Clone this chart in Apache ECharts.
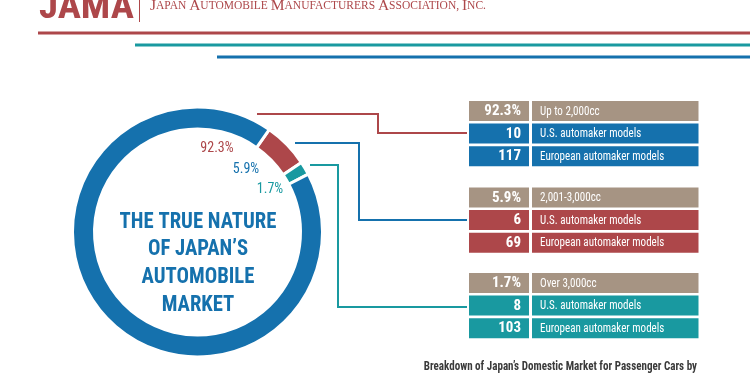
<!DOCTYPE html>
<html>
<head>
<meta charset="utf-8">
<script src="https://cdn.jsdelivr.net/npm/echarts@6/dist/echarts.min.js"></script>
<style>
    html, body { margin: 0; padding: 0; background: #fff; }
    #chart { width: 750px; height: 375px; }
</style>
</head>
<body>
<div id="chart"></div>
<script>
    // data
    const segments = ["Up to 2,000cc", "2,001-3,000cc", "Over 3,000cc"];
    const shares = [92.3, 5.9, 1.7];
    const usModels = [10, 6, 8];
    const euModels = [117, 69, 103];
    const rowLabels = ["U.S. automaker models", "European automaker models"];
    const titleLines = ["THE TRUE NATURE", "OF JAPAN\u2019S", "AUTOMOBILE", "MARKET"];
    const headerText = "Japan Automobile Manufacturers Association, Inc.";
    const footerText = "Breakdown of Japan\u2019s Domestic Market for Passenger Cars by";

    const BLUE = "#1571ad";
    const RED = "#ad474a";
    const TEAL = "#1999a0";
    const TAN = "#a69483";
    const groupColors = [BLUE, RED, TEAL];
    const ringColors = [BLUE, RED, TEAL];
    const ringLabelColors = [RED, BLUE, TEAL];
    const NARROW = '"Liberation Sans Narrow", "Roboto Condensed", "DejaVu Sans Condensed", "Noto Sans", sans-serif';
    const SERIF = '"Liberation Serif", "DejaVu Serif", serif';

    const chart = echarts.init(document.getElementById("chart"));

    // pie order: clockwise from the red slice
    const pieOrder = [1, 2, 0];
    const pieData = pieOrder.map(i => ({
        name: segments[i],
        value: shares[i],
        itemStyle: { color: ringColors[i] }
    }));

    let graphics = [];

    // narrow text helper (squeezed horizontally like the original font)
    const narrowText = (x, y, text, font, fill, align, squeeze) => ({
        type: "text", x: x, y: y, scaleX: squeeze, scaleY: 1,
        style: { text: text, fill: fill, font: font, align: align, verticalAlign: "middle" }
    });

    // header
    graphics.push({
        type: "text", x: 39, y: -10, scaleX: 1.05,
        style: { text: "JAMA", fill: RED, font: 'bold 37px ' + NARROW }
    });
    graphics.push({ type: "line", shape: { x1: 139.5, y1: 0, x2: 139.5, y2: 22 }, style: { stroke: RED, lineWidth: 1 } });
    const rich = { b: { fontSize: 15.5, fill: RED, fontFamily: SERIF },
                   s: { fontSize: 11.5, fill: RED, fontFamily: SERIF } };
    const headerRich = headerText.split(" ").map(w => "{b|" + w[0] + "}{s|" + w.slice(1).toUpperCase() + "}").join("{s| }");
    graphics.push({
        type: "text", left: 150, top: -2,
        style: { text: headerRich, rich: rich }
    });
    graphics.push({ type: "line", shape: { x1: 38, y1: 33, x2: 750, y2: 33 }, style: { stroke: RED, lineWidth: 3 } });
    graphics.push({ type: "line", shape: { x1: 135, y1: 45, x2: 750, y2: 45 }, style: { stroke: TEAL, lineWidth: 3 } });
    graphics.push({ type: "line", shape: { x1: 217, y1: 57, x2: 750, y2: 57 }, style: { stroke: BLUE, lineWidth: 3 } });

    // ring labels
    const ringLabelPos = [[217, 148], [246, 169], [270, 189]];
    shares.forEach((s, i) => {
        graphics.push(narrowText(ringLabelPos[i][0], ringLabelPos[i][1], s + "%", "14px " + NARROW, ringLabelColors[i], "center", 1));
    });

    // title in the middle of the ring
    titleLines.forEach((t, i) => {
        graphics.push(narrowText(198, 222 + i * 27.8, t, "bold 22px " + NARROW, BLUE, "center", 0.94));
    });

    // connector lines
    const connectors = [
        { color: RED, points: [[257, 114], [378, 114], [378, 133], [467, 133]] },
        { color: BLUE, points: [[295, 143], [359, 143], [359, 220], [467, 220]] },
        { color: TEAL, points: [[310, 165], [338, 165], [338, 307], [467, 307]] }
    ];
    connectors.forEach(c => {
        graphics.push({ type: "polyline", shape: { points: c.points }, style: { stroke: c.color, lineWidth: 2, fill: null } });
    });

    // tables
    const groupTop = [101, 187.5, 273];
    segments.forEach((seg, i) => {
        let rows = [
            { num: shares[i] + "%", label: seg, color: TAN },
            { num: String(usModels[i]), label: rowLabels[0], color: groupColors[i] },
            { num: String(euModels[i]), label: rowLabels[1], color: groupColors[i] }
        ];
        rows.forEach((r, j) => {
            let y = groupTop[i] + j * 22.6;
            graphics.push({ type: "rect", shape: { x: 469, y: y, width: 60, height: 20 }, style: { fill: r.color } });
            graphics.push({ type: "rect", shape: { x: 532, y: y, width: 166.5, height: 20 }, style: { fill: r.color } });
            graphics.push(narrowText(521, y + 10.5, r.num, "bold 15px " + NARROW, "#fff", "right", 1));
            graphics.push(narrowText(540, y + 10.5, r.label, "13px " + NARROW, "#fff", "left", 0.85));
        });
    });

    // footer
    graphics.push(narrowText(697, 367, footerText, "bold 13px " + NARROW, "#3a3a3a", "right", 0.85));

    const option = {
        backgroundColor: "#fff",
        animation: false,
        series: [{
            type: "pie",
            center: [197.5, 232],
            radius: [103, 125],
            startAngle: 55,
            clockwise: true,
            silent: true,
            label: { show: false },
            labelLine: { show: false },
            itemStyle: { borderColor: "#fff", borderWidth: 3 },
            data: pieData
        }],
        graphic: graphics
    };

    chart.setOption(option);
</script>
</body>
</html>
